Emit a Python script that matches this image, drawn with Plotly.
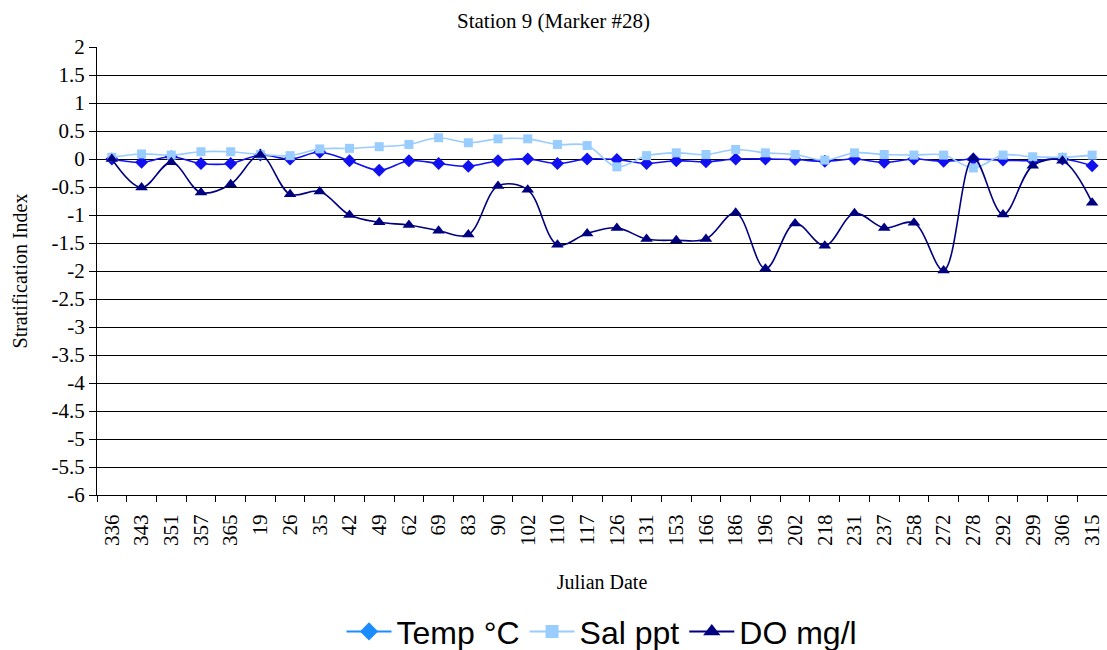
import plotly.graph_objects as go

dates = ["336", "343", "351", "357", "365", "19", "26", "35", "42", "49", "62", "69",
         "83", "90", "102", "110", "117", "126", "131", "153", "166", "186", "196",
         "202", "218", "231", "237", "258", "272", "278", "292", "299", "306", "315"]

temp = [0.0, -0.06, 0.04, -0.08, -0.08, 0.07, 0.0, 0.12, -0.03, -0.2, -0.03, -0.08,
        -0.13, -0.03, 0.0, -0.08, 0.0, -0.01, -0.08, -0.03, -0.05, 0.0, 0.0,
        -0.01, -0.04, 0.0, -0.06, 0.0, -0.04, 0.0, -0.02, -0.03, 0.0, -0.12]

sal = [0.03, 0.09, 0.07, 0.13, 0.13, 0.08, 0.06, 0.18, 0.19, 0.22, 0.26, 0.38,
       0.29, 0.36, 0.36, 0.26, 0.24, -0.14, 0.06, 0.11, 0.08, 0.17, 0.11,
       0.08, -0.02, 0.11, 0.08, 0.07, 0.07, -0.16, 0.07, 0.04, 0.03, 0.07]

do = [0.0, -0.51, -0.06, -0.6, -0.45, 0.07, -0.63, -0.58, -1.0, -1.13, -1.18, -1.28,
      -1.35, -0.48, -0.55, -1.53, -1.33, -1.23, -1.43, -1.45, -1.43, -0.96, -1.96,
      -1.15, -1.55, -0.97, -1.23, -1.14, -1.99, 0.02, -0.99, -0.12, -0.03, -0.78]

y_ticks = [2, 1.5, 1, 0.5, 0, -0.5, -1, -1.5, -2, -2.5, -3, -3.5, -4, -4.5, -5, -5.5, -6]
y_tick_text = ["2", "1.5", "1", "0.5", "0", "-0.5", "-1", "-1.5", "-2", "-2.5", "-3",
               "-3.5", "-4", "-4.5", "-5", "-5.5", "-6"]

series = [
    ("Temp °C", temp, "#1010F0", "#1A8CFF", "diamond", 10),
    ("Sal ppt", sal, "#99CCFF", "#99CCFF", "square", 9),
    ("DO mg/l", do, "#000080", "#000080", "triangle-up", 11),
]

fig = go.Figure()
for name, vals, col, legcol, sym, size in series:
    fig.add_trace(go.Scatter(x=dates, y=vals, name=name, mode="lines+markers",
                             legendgroup=name, showlegend=False,
                             line=dict(color=col, width=1.6, shape="spline", smoothing=1),
                             marker=dict(symbol=sym, size=size, color=col)))
for name, vals, col, legcol, sym, size in series:
    fig.add_trace(go.Scatter(x=[None], y=[None], name=name, mode="lines+markers",
                             legendgroup=name, showlegend=True,
                             line=dict(color=legcol, width=2),
                             marker=dict(symbol=sym, size=size + 4, color=legcol)))

serif = "Liberation Serif, Times New Roman, serif"
fig.update_layout(
    width=1107, height=650,
    margin=dict(l=97, r=0, t=47, b=155, autoexpand=False),
    paper_bgcolor="white", plot_bgcolor="white",
    title=dict(text="Station 9 (Marker #28)", x=0.5, xanchor="center", y=0.969,
               yanchor="middle", font=dict(family=serif, size=21, color="black")),
    legend=dict(orientation="h", x=0.5, xanchor="center", y=-0.305, yanchor="middle",
                font=dict(family="Liberation Sans, Arial, sans-serif", size=32, color="black"),
                itemwidth=45, tracegroupgap=0),
    showlegend=True,
)
fig.update_xaxes(
    type="category", range=[-0.5, len(dates) - 0.5], tickangle=-90,
    tickson="boundaries", ticks="outside", ticklen=6, tickcolor="black",
    showline=True, linecolor="black", linewidth=1, showgrid=False, automargin=False,
    ticklabelstandoff=10,
    tickfont=dict(family=serif, size=21, color="black"),
    title=dict(text="Julian Date", font=dict(family=serif, size=20, color="black"), standoff=30),
)
fig.update_yaxes(
    range=[-6, 2], tickmode="array", tickvals=y_ticks, ticktext=y_tick_text,
    ticks="outside", ticklen=7, tickcolor="black", automargin=False,
    showline=True, linecolor="black", linewidth=1,
    showgrid=True, gridcolor="black", gridwidth=1, zeroline=True, zerolinecolor="black",
    zerolinewidth=1,
    tickfont=dict(family=serif, size=21, color="black"),
    title=dict(text="Stratification Index", font=dict(family=serif, size=20, color="black"), standoff=18),
)
fig.write_html("out.html")
